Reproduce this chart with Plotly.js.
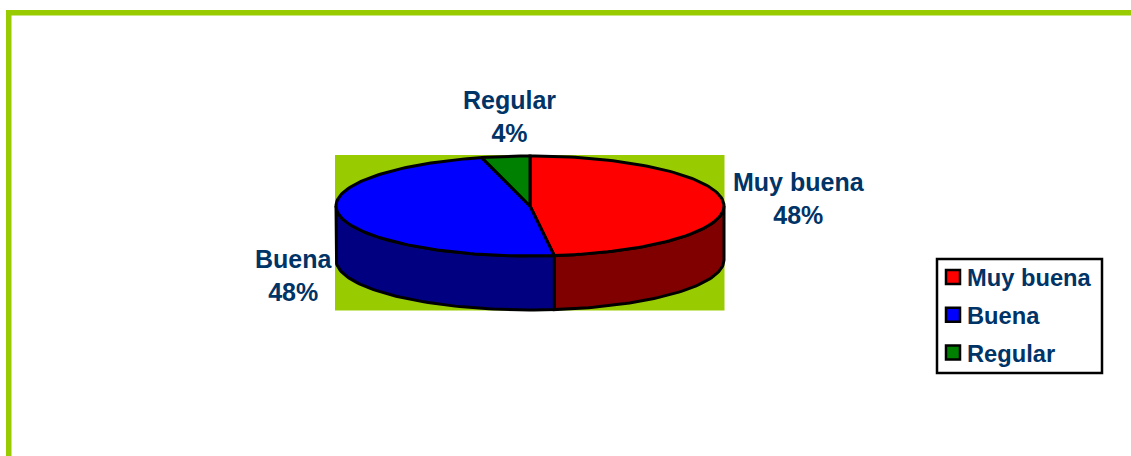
<!DOCTYPE html>
<html><head><meta charset="utf-8">
<script src="https://cdn.plot.ly/plotly-3.0.1.min.js"></script>
<style>html,body{margin:0;padding:0;background:#fff;overflow:hidden}#c{width:1131px;height:456px}</style>
</head><body><div id="c"></div>
<script>
const categories = ["Muy buena", "Buena", "Regular"];
const values = [48, 48, 4];
const percentLabels = ["48%", "48%", "4%"];
const topColors = ["#ff0000", "#0000ff", "#008000"];
const wallColors = ["#800000", "#000080", "#004000"];

const W = 1131, H = 456;
const cx = 530, cy = 206, rx = 194, ry = 50, depth = 54;
const lime = "#99cc00", ink = "#003366";
const fontFamily = "Liberation Sans, Arial, sans-serif";

const pt = (deg, dy = 0) => {
  const r = deg * Math.PI / 180;
  return [cx + rx * Math.sin(r), cy - ry * Math.cos(r) + dy];
};
const arc = (a, b, dy = 0) => {
  const n = Math.max(2, Math.ceil(Math.abs(b - a) / 1.5));
  const out = [];
  for (let i = 0; i <= n; i++) out.push(pt(a + (b - a) * i / n, dy));
  return out;
};

const total = values.reduce((s, v) => s + v, 0);
let acc = 0;
const spans = values.map(v => {
  const s = [acc, acc + v / total * 360];
  acc = s[1];
  return s;
});

const poly = (pts, fill) => ({
  type: "scatter", mode: "lines",
  x: pts.map(p => p[0]), y: pts.map(p => p[1]),
  fill: "toself", fillcolor: fill,
  line: {color: "#000", width: 3, shape: "linear"},
  showlegend: false, hoverinfo: "skip"
});

const traces = [];
// side walls (only the front half of the cylinder is visible)
spans.forEach((s, i) => {
  const a = Math.max(s[0], 90), b = Math.min(s[1], 270);
  if (b <= a) return;
  const pts = arc(a, b).concat(arc(b, a, depth));
  pts.push(pts[0]);
  traces.push(poly(pts, wallColors[i]));
});
// top faces
spans.forEach((s, i) => {
  const pts = [[cx, cy]].concat(arc(s[0], s[1]));
  pts.push([cx, cy]);
  traces.push(poly(pts, topColors[i]));
});
// legend entries
categories.forEach((c, i) => traces.push({
  type: "scatter", mode: "markers", x: [null], y: [null], name: c,
  legendgroup: c, showlegend: true, hoverinfo: "skip",
  marker: {symbol: "square", size: 14, color: topColors[i], line: {color: "#000", width: 2.5}}
}));

const labelPos = [[798.5, 198.5], [293.5, 275.5], [509, 116]];
const annotations = categories.map((c, i) => ({
  xref: "x", yref: "y", x: labelPos[i][0], y: labelPos[i][1],
  text: c + "<br>" + percentLabels[i], showarrow: false,
  xanchor: "center", yanchor: "middle", align: "center",
  font: {family: fontFamily, size: 25, color: ink, weight: 700}
}));

const rect = (x0, y0, x1, y1, o) => Object.assign({
  type: "rect", xref: "x", yref: "y", x0, y0, x1, y1, layer: "below",
  fillcolor: lime, line: {width: 0}
}, o);

const layout = {
  width: W, height: H, margin: {l: 0, r: 0, t: 0, b: 0, pad: 0},
  paper_bgcolor: "#fff", plot_bgcolor: "#fff", showlegend: true,
  xaxis: {range: [0, W], visible: false, fixedrange: true},
  yaxis: {range: [H, 0], visible: false, fixedrange: true},
  shapes: [
    rect(6, 10, W, 15.5),
    rect(6, 10, 11.5, H),
    rect(335, 155, 724.5, 310.5),
    rect(937, 259, 1102, 373, {fillcolor: "#fff", line: {color: "#000", width: 2.5}})
  ],
  annotations,
  legend: {
    x: 927 / W, y: 1 - 255 / H, xanchor: "left", yanchor: "top",
    bgcolor: "rgba(0,0,0,0)", borderwidth: 0, traceorder: "grouped",
    tracegroupgap: 4, itemclick: false, itemdoubleclick: false,
    font: {family: fontFamily, size: 23.7, color: ink, weight: 700}
  }
};
Plotly.newPlot("c", traces, layout, {displayModeBar: false, staticPlot: true}).then(() => {
  document.querySelectorAll("#c .legendpoints").forEach(g => g.setAttribute("transform", "translate(6,0)"));
});
</script></body></html>
